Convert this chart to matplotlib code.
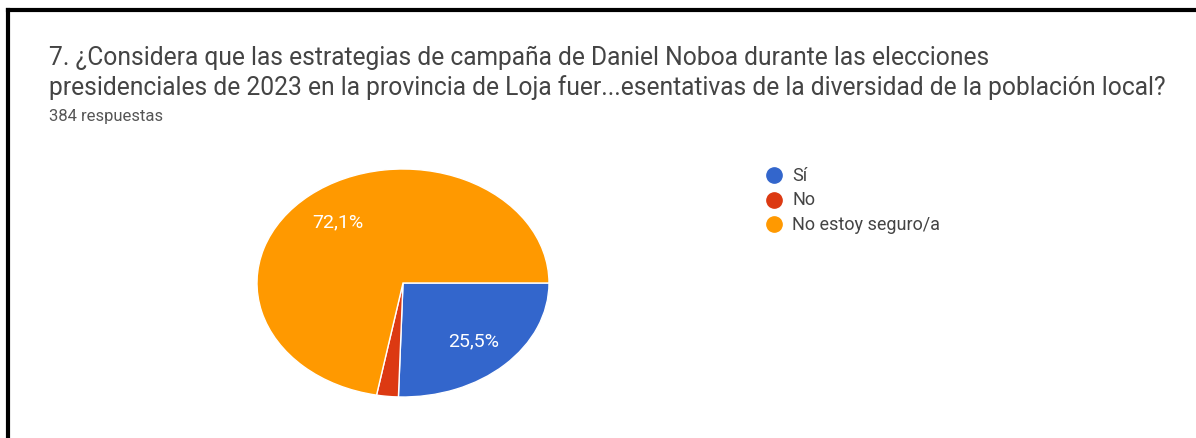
import matplotlib.pyplot as plt
from matplotlib.lines import Line2D

plt.rcParams['font.family'] = ['Roboto', 'DejaVu Sans']

title_1 = "7. ¿Considera que las estrategias de campaña de Daniel Noboa durante las elecciones"
title_2 = "presidenciales de 2023 en la provincia de Loja fuer...esentativas de la diversidad de la población local?"
n_resp = "384 respuestas"

labels = ["Sí", "No", "No estoy seguro/a"]
shares = [25.5, 2.4, 72.1]
colors = ["#3366CC", "#DC3912", "#FF9900"]


def pct_label(p):
    # small slices get no label
    if p < 5:
        return ""
    return ("%.1f%%" % p).replace(".", ",")


W, H = 1196, 439
fig = plt.figure(figsize=(W / 100, H / 100), dpi=100)

# frame lines (top and left)
fig.add_artist(Line2D([8 / W, 8 / W], [0, 1 - 11 / H], color="black", lw=3))
fig.add_artist(Line2D([8 / W, 1], [1 - 11 / H, 1 - 11 / H], color="black", lw=3))

fig.text(49 / W, 1 - 65 / H, title_1, fontsize=17.7, color="#444444", va="baseline")
fig.text(49 / W, 1 - 95 / H, title_2, fontsize=17.7, color="#444444", va="baseline")
fig.text(49 / W, 1 - 121 / H, n_resp, fontsize=12, color="#555555", va="baseline")

# pie is drawn slightly stretched horizontally
ax = fig.add_axes([257 / W, (H - 398) / H, 292 / W, 228 / H])
wedges, texts, autotexts = ax.pie(shares, colors=colors, startangle=0, counterclock=False,
                                  autopct=pct_label, pctdistance=0.7,
                                  wedgeprops=dict(edgecolor="white", linewidth=1))
for t in autotexts:
    t.set_color("white")
    t.set_fontsize(14)
ax.set_aspect("auto")
ax.set_xlim(-1.0, 1.0)
ax.set_ylim(-1.0, 1.0)
ax.axis("off")

# legend
for i, (lab, c) in enumerate(zip(labels, colors)):
    y = 1 - (176 + 24.5 * i) / H
    fig.add_artist(Line2D([774 / W], [y], marker="o", markersize=11, color=c, linestyle=""))
    fig.text(792 / W, y, lab, fontsize=13, color="#444444", va="center")

fig.savefig("out.png", dpi=100)
